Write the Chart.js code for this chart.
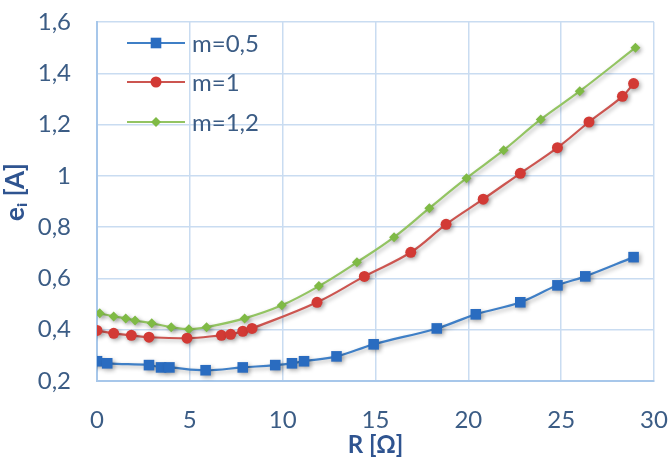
<!DOCTYPE html>
<html lang="en">
  <head>
    <meta charset="UTF-8" />
    <title>e_i vs R</title>
    <style>
      html, body { margin: 0; padding: 0; background: #fff; }
      #wrap { width: 670px; height: 461px; }
    </style>
  </head>
  <body>
    <div id="wrap"><canvas id="myChart" width="670" height="461"></canvas></div>
    <script src="https://cdn.jsdelivr.net/npm/chart.js@4.4.0/dist/chart.umd.min.js"></script>
    <script>
      // series names
      var seriesNames = ["m=0,5", "m=1", "m=1,2"];

      // m=0,5
      var blueX = [0, 0.55, 2.8, 3.45, 3.9, 5.85, 7.85, 9.6, 10.5, 11.15, 12.9, 14.9, 18.3, 20.4, 22.8, 24.8, 26.3, 28.9];
      var blueY = [0.277, 0.269, 0.262, 0.253, 0.253, 0.242, 0.253, 0.262, 0.269, 0.277, 0.296, 0.343, 0.405, 0.46, 0.507, 0.573, 0.608, 0.683];

      // m=1
      var redX = [0, 0.9, 1.85, 2.8, 4.85, 6.7, 7.2, 7.85, 8.35, 11.85, 14.4, 16.9, 18.8, 20.8, 22.8, 24.8, 26.5, 28.3, 28.9];
      var redY = [0.397, 0.386, 0.378, 0.371, 0.367, 0.378, 0.382, 0.394, 0.405, 0.507, 0.608, 0.702, 0.811, 0.909, 1.01, 1.11, 1.21, 1.31, 1.36];

      // m=1,2
      var greenX = [0.15, 0.9, 1.55, 2.05, 2.95, 4.0, 4.95, 5.9, 7.95, 9.95, 11.95, 14.0, 16.0, 17.9, 19.9, 21.9, 23.9, 26.0, 29.0];
      var greenY = [0.464, 0.452, 0.444, 0.436, 0.425, 0.41, 0.402, 0.41, 0.444, 0.495, 0.57, 0.663, 0.761, 0.874, 0.991, 1.1, 1.22, 1.33, 1.5];

      // axis ranges / titles
      var xMin = 0, xMax = 30, xStep = 5;
      var yMin = 0.2, yMax = 1.6, yStep = 0.2;
      var xTitle = "R [\u03A9]";
      var yTitle = "   e\u1D62 [A]"; // leading spaces nudge it up a bit, like the original

      var textColor = "#3b5c85";
      var titleColor = "#2f5490";
      var gridColor = "#c9dcf1";

      function toPoints(xs, ys) {
        var pts = [];
        for (var i = 0; i < xs.length; i++) pts.push({ x: xs[i], y: ys[i] });
        return pts;
      }

      var datasets = [
        {
          label: seriesNames[0],
          data: toPoints(blueX, blueY),
          borderColor: "#3f7fc6",
          backgroundColor: "#2a6cc0",
          pointStyle: "rect",
          pointRadius: 7.5,
          pointBorderWidth: 0
        },
        {
          label: seriesNames[1],
          data: toPoints(redX, redY),
          borderColor: "#cc5550",
          backgroundColor: "#d23a35",
          pointStyle: "circle",
          pointRadius: 5.5,
          pointBorderWidth: 0
        },
        {
          label: seriesNames[2],
          data: toPoints(greenX, greenY),
          borderColor: "#93c462",
          backgroundColor: "#7fba45",
          pointStyle: "rectRot",
          pointRadius: 5,
          pointBorderWidth: 0
        }
      ];
      datasets.forEach(function (d) {
        d.showLine = true;
        d.borderWidth = 2.2;
        d.tension = 0.4;
        d.fill = false;
      });

      // soft shadow under the series, like the original
      var shadowPlugin = {
        id: "shadow",
        beforeDatasetDraw: function (chart) {
          var ctx = chart.ctx;
          ctx.save();
          ctx.shadowColor = "rgba(0,0,0,0.3)";
          ctx.shadowBlur = 4;
          ctx.shadowOffsetX = 2;
          ctx.shadowOffsetY = 2;
        },
        afterDatasetDraw: function (chart) {
          chart.ctx.restore();
        }
      };

      // legend inside the plot, line + marker
      var insideLegend = {
        id: "insideLegend",
        afterDraw: function (chart) {
          var ctx = chart.ctx;
          var x0 = 127, x1 = 185, tx = 192;
          var rows = [43, 82, 122];
          ctx.save();
          chart.data.datasets.forEach(function (ds, i) {
            var y = rows[i];
            ctx.strokeStyle = ds.borderColor;
            ctx.lineWidth = 2;
            ctx.beginPath();
            ctx.moveTo(x0, y);
            ctx.lineTo(x1, y);
            ctx.stroke();
            var cx = (x0 + x1) / 2;
            ctx.fillStyle = ds.backgroundColor;
            var r = ds.pointRadius;
            ctx.beginPath();
            if (ds.pointStyle === "rect") {
              var h = r * Math.SQRT1_2;
              ctx.rect(cx - h, y - h, h * 2, h * 2);
            } else if (ds.pointStyle === "circle") {
              ctx.arc(cx, y, r, 0, Math.PI * 2);
            } else {
              ctx.moveTo(cx, y - r);
              ctx.lineTo(cx + r, y);
              ctx.lineTo(cx, y + r);
              ctx.lineTo(cx - r, y);
              ctx.closePath();
            }
            ctx.fill();
            ctx.fillStyle = textColor;
            ctx.font = "24px Lato";
            ctx.textBaseline = "middle";
            ctx.fillText(ds.label, tx, y + 1);
          });
          ctx.restore();
        }
      };

      function fmt(v) {
        var r = Math.round(v * 10) / 10;
        return String(r).replace(".", ",");
      }

      new Chart(document.getElementById("myChart"), {
        type: "scatter",
        data: { datasets: datasets },
        plugins: [shadowPlugin, insideLegend],
        options: {
          responsive: false,
          animation: false,
          layout: { padding: 0 },
          plugins: { legend: { display: false }, tooltip: { enabled: false } },
          scales: {
            x: {
              type: "linear",
              min: xMin,
              max: xMax,
              afterFit: function (s) {
                s.height = 80;
                s.paddingLeft = 0;
                s.paddingRight = 16;
              },
              ticks: {
                stepSize: xStep,
                color: textColor,
                font: { family: "Lato", size: 24 },
                padding: 25
              },
              grid: { color: gridColor, lineWidth: 1.5, drawTicks: false },
              border: { color: "#a7c7ea", width: 2 },
              title: {
                display: true,
                text: xTitle,
                color: titleColor,
                font: { family: "Lato", size: 24, weight: "bold" },
                padding: { top: 0, bottom: 1 }
              }
            },
            y: {
              type: "linear",
              min: yMin,
              max: yMax,
              afterFit: function (s) {
                s.width = 97;
                s.paddingTop = 22;
                s.paddingBottom = 0;
              },
              ticks: {
                stepSize: yStep,
                color: textColor,
                font: { family: "Lato", size: 24 },
                padding: 26,
                callback: function (v) { return fmt(v); }
              },
              grid: { color: gridColor, lineWidth: 1.5, drawTicks: false },
              border: { color: "#a7c7ea", width: 2 },
              title: {
                display: true,
                text: yTitle,
                color: titleColor,
                font: { family: "Lato", size: 26, weight: "bold" },
                padding: { top: 0, bottom: 0 }
              }
            }
          }
        }
      });
    </script>
  </body>
</html>
